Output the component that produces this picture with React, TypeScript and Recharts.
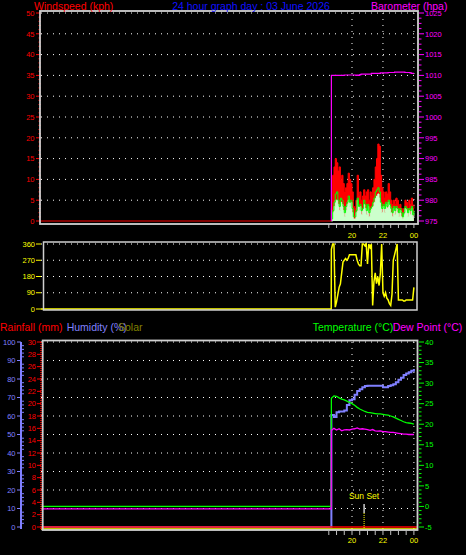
import React from 'react';
import {
  ComposedChart, Line, Area, XAxis, YAxis, CartesianGrid, ReferenceLine
} from 'recharts';

const FONT = '"Liberation Sans", Arial, sans-serif';
const W = 466;
const H = 555;

// time axis in hours since midnight, 24 shows as "00"
const DAY_START = -0.1;
const DAY_END = 24.2;
const DATA_START = 18 + 40 / 60; // station back online at 18:40
const hourTicks = [18.5, 19, 19.5, 20, 20.5, 21, 21.5, 22, 22.5, 23, 23.5, 24];
const hourLabels: Record<number, string> = { 20: '20', 22: '22', 24: '00' };
const gridHours = [20, 22, 24];
const sunSetHour = 20.78;

// readings before the station came online (barometer sits under the frame, clipped)
const offline = { wind: 0, baro: 974.2, dir: 0, temp: 0, dew: -0.6, hum: 0 };

// 5 minute samples from 18:40 to 00:00
const windGust = [
  3, 11, 13, 15, 14, 12, 13, 10, 11, 9,
  7, 8, 9, 11.5, 10, 9, 7, 3.5, 3, 5,
  11, 6, 7, 5, 6, 7.5, 6, 7, 7.5, 5,
  7, 6, 8, 10, 13, 15, 18.5, 18, 11, 8,
  7, 5.5, 7, 6.5, 9, 7, 5, 4, 5, 4,
  5.5, 5, 3.5, 4, 3, 2.5, 3, 5, 4.5, 3,
  5, 4, 5.5, 3, 4,
];
const windSpeed = [
  0, 2, 3.5, 5, 5, 4, 2.5, 4.5, 4, 2.5,
  1, 2.5, 4, 5, 3.5, 4.5, 2, 0.5, 0.5, 2,
  5, 2.5, 3.5, 1.5, 2.5, 4, 3, 1.5, 3.5, 1,
  2.5, 3, 3.5, 4.5, 5.5, 6, 6.5, 5.5, 3.5, 2,
  3.5, 2, 4, 3, 4.5, 3.5, 2, 1, 3, 1.5,
  3, 2, 1, 2.5, 1, 0.5, 1.5, 3, 2.5, 1,
  2.5, 1.5, 3, 1, 2,
];
const windAvg = [
  0.5, 2.5, 4.5, 6.5, 7, 5, 3.5, 5.5, 5, 3.5,
  2, 3.5, 4.5, 6, 4.5, 5, 3, 1, 1, 2.5,
  5.5, 3.5, 4, 2.5, 3, 5, 4, 2.5, 4, 2,
  3, 3.5, 4.5, 5.5, 7, 7.5, 8, 7, 4.5, 3,
  4, 3, 4.5, 3.5, 5, 4, 3, 2, 3.5, 2.5,
  3.5, 3, 2, 3, 2, 1, 2, 3.5, 3, 2,
  3, 2.5, 3.5, 1.5, 2.5,
];
const barometer = [
  1010.0, 1010.0, 1010.0, 1010.0, 1010.0, 1010.0, 1010.0, 1010.0, 1010.0, 1010.0,
  1010.1, 1010.1, 1010.1, 1010.1, 1010.1, 1010.1, 1010.1, 1010.1, 1010.1, 1010.0,
  1010.1, 1010.0, 1010.2, 1010.3, 1010.3, 1010.3, 1010.3, 1010.3, 1010.3, 1010.3,
  1010.3, 1010.5, 1010.5, 1010.5, 1010.5, 1010.5, 1010.5, 1010.5, 1010.6, 1010.6,
  1010.6, 1010.6, 1010.6, 1010.6, 1010.7, 1010.7, 1010.7, 1010.7, 1010.7, 1010.8,
  1010.8, 1010.8, 1010.8, 1010.8, 1010.8, 1010.8, 1010.8, 1010.7, 1010.7, 1010.7,
  1010.7, 1010.6, 1010.5, 1010.5, 1010.5,
];
const windDir = [
  330, 360, 360, 10, 40, 80, 120, 140, 200, 260,
  270, 280, 270, 280, 300, 300, 300, 300, 300, 300,
  270, 250, 240, 240, 360, 360, 350, 360, 250, 360,
  340, 360, 20, 150, 200, 140, 180, 130, 200, 360,
  90, 70, 90, 60, 50, 30, 20, 80, 270, 300,
  330, 360, 50, 50, 50, 50, 45, 45, 50, 50,
  50, 50, 50, 50, 120,
];

// 10 minute samples from 18:40 to 00:00
const temperature = [
  26.3, 26.9, 26.8, 26.4, 26.1, 25.9, 25.6, 25.3, 25.0, 24.6,
  24.1, 23.7, 23.4, 23.1, 22.9, 22.8, 22.7, 22.6, 22.5, 22.5,
  22.4, 22.3, 22.2, 22.0, 21.8, 21.5, 21.2, 20.9, 20.6, 20.4,
  20.3, 20.2, 20.0,
];
const dewPoint = [
  18.5, 19.0, 18.6, 18.9, 18.4, 18.6, 18.7, 18.6, 18.8, 18.9,
  19.1, 18.8, 18.9, 18.8, 18.7, 18.5, 18.7, 18.4, 18.3, 18.4,
  18.2, 18.2, 18.1, 18.0, 18.0, 17.9, 17.8, 17.7, 17.6, 17.6,
  17.5, 17.5, 17.5,
];
const humidity = [
  60.5, 59.5, 62.0, 62.5, 62.5, 63.0, 66.0, 68.5, 69.0, 71.5,
  73.5, 74.5, 75.5, 76.2, 76.3, 76.4, 76.4, 76.4, 76.3, 76.3,
  75.6, 75.5, 76.2, 76.6, 77.2, 78.2, 79.6, 80.7, 82.2, 83.0,
  83.7, 84.5, 85.4,
];

// axis ticks
const windTicks = Array.from({ length: 51 }, (_, i) => i);
const windGrid = [5, 10, 15, 20, 25, 30, 35, 40, 45, 50];
const baroTicks = Array.from({ length: 41 }, (_, i) => 975 + i * 1.25);
const dirTicks = [0, 90, 180, 270, 360];
const compassLabels = ['N', 'E', 'S', 'W', 'N'];
const rainTicks = [0, 2, 4, 6, 8, 10, 12, 14, 16, 18, 20, 22, 24, 26, 28, 30];
const rainGrid = [3, 6, 9, 12, 15, 18, 21, 24, 27, 30]; // = humidity 10..100 %
const humTicks = Array.from({ length: 51 }, (_, i) => i * 2);
const tempTicks = Array.from({ length: 46 }, (_, i) => i - 5);

const topData = [
  { h: DAY_START, gust: offline.wind, baro: offline.baro },
  ...windGust.map((g, i) => ({
    h: DATA_START + i / 12, gust: g, speed: windSpeed[i], avg: windAvg[i], baro: barometer[i],
  })),
];

const dirData = [
  { h: DAY_START, dir: offline.dir },
  { h: DATA_START - 0.01, dir: offline.dir },
  ...windDir.map((d, i) => ({ h: DATA_START + i / 12, dir: d })),
];

const bottomData = [
  { h: DAY_START, temp: offline.temp, dew: offline.dew, hum: offline.hum, rain: 0, solar: 0 },
  { h: DATA_START - 0.01, temp: offline.temp, dew: offline.dew, hum: offline.hum, rain: 0, solar: 0 },
  ...temperature.map((t, j) => ({
    h: DATA_START + j / 6, temp: t, dew: dewPoint[j], hum: humidity[j], rain: 0, solar: 0,
  })),
  { h: DAY_END, rain: 0, solar: 0 },
];

const small = { fontSize: 7.5, fontFamily: FONT };

const hourTick = (lineTop: number, labelDy: number) => (p: any) => {
  const v = p.payload.value;
  const label = hourLabels[v];
  return (
    <g>
      <line x1={p.x} x2={p.x} y1={p.y + lineTop} y2={p.y + lineTop + 4} stroke="#c0c0c0" />
      {label && (
        <text x={p.x} y={p.y + labelDy} textAnchor="middle" fill="#ffff00" {...small}>{label}</text>
      )}
    </g>
  );
};

// left side ticks: p.x is the inner edge of the axis
const leftTick = (color: string, step: number, len: number, gap: number, minorOut = false) => (p: any) => {
  const v = p.payload.value;
  const major = Math.abs(v % step) < 1e-6;
  return (
    <g>
      {major ? (
        <line x1={p.x - len} x2={p.x} y1={p.y} y2={p.y} stroke={color} />
      ) : minorOut ? (
        <line x1={p.x} x2={p.x + 3} y1={p.y} y2={p.y} stroke={color} />
      ) : (
        <line x1={p.x - 2.5} x2={p.x} y1={p.y} y2={p.y} stroke={color} />
      )}
      {major && (
        <text x={p.x - len - gap} y={p.y + 2.7} textAnchor="end" fill={color} {...small}>{v}</text>
      )}
    </g>
  );
};

// right side ticks: p.x is the plot's right edge
const rightTick = (color: string, step: number) => (p: any) => {
  const v = p.payload.value;
  const major = Math.abs(v % step) < 1e-6;
  return (
    <g>
      <line x1={p.x + 2} x2={p.x + (major ? 7 : 4.5)} y1={p.y} y2={p.y} stroke={color} />
      {major && (
        <text x={p.x + 8} y={p.y + 2.7} fill={color} {...small}>{v}</text>
      )}
    </g>
  );
};

const compassTick = (p: any) => {
  const idx = dirTicks.indexOf(p.payload.value);
  return (
    <text x={p.x + 23} y={p.y + 3.6} textAnchor="middle" fill="#ffff00" fontSize={10} fontFamily={FONT}>
      {compassLabels[idx]}
    </text>
  );
};

const noAxis = { axisLine: false, tickLine: false, tickSize: 0, tickMargin: 0, interval: 0 as const };
const layer: React.CSSProperties = { position: 'absolute', left: 0, top: 0 };

export default function App() {
  return (
    <div style={{ position: 'absolute', left: 0, top: 0, width: W, height: H, background: '#000', overflow: 'hidden' }}>
      {/* wind speed + barometer */}
      <div style={layer}>
        <ComposedChart width={W} height={H} data={topData} margin={{ top: 13, right: 0, bottom: 304, left: 0 }}>
          <CartesianGrid stroke="#ffffff" strokeDasharray="1 5" horizontalValues={windGrid} verticalValues={gridHours} />
          <XAxis dataKey="h" type="number" domain={[DAY_START, DAY_END]} ticks={hourTicks} height={30}
            {...noAxis} tick={hourTick(3, 16.5)} />
          <YAxis domain={[0, 50]} ticks={windTicks} width={41} {...noAxis} tick={leftTick('#ff0000', 5, 5, 1.5)} />
          <YAxis yAxisId="baro" orientation="right" domain={[975, 1025]} allowDataOverflow ticks={baroTicks}
            width={49} {...noAxis} tick={rightTick('#ff00ff', 5)} />
          <Area dataKey="gust" type="stepAfter" stroke="#ff0000" fill="#ff0000" fillOpacity={1}
            isAnimationActive={false} />
          <Area dataKey="speed" type="stepAfter" stroke="#ccffcc" fill="#ccffcc" fillOpacity={1}
            isAnimationActive={false} />
          <Line dataKey="avg" type="stepAfter" stroke="#00ff00" strokeWidth={1} dot={false}
            isAnimationActive={false} />
          <Line yAxisId="baro" dataKey="baro" type="stepAfter" stroke="#ff00ff" strokeWidth={1.2}
            dot={false} isAnimationActive={false} />
        </ComposedChart>
      </div>

      {/* wind direction */}
      <div style={layer}>
        <ComposedChart width={W} height={H} data={dirData} margin={{ top: 244, right: 0, bottom: 246, left: 0 }}>
          <CartesianGrid stroke="#ffffff" strokeDasharray="1 5" horizontalValues={[90, 180, 270, 360]} vertical={false} />
          <XAxis dataKey="h" type="number" domain={[DAY_START, DAY_END]} hide />
          <YAxis domain={[0, 360]} ticks={dirTicks} width={41} {...noAxis} tick={leftTick('#ffff00', 90, 5, 1)} />
          <YAxis yAxisId="compass" orientation="right" domain={[0, 360]} ticks={dirTicks} width={49}
            {...noAxis} tick={compassTick} />
          <Line dataKey="dir" type="linear" stroke="#ffff00" strokeWidth={1.5} dot={false}
            isAnimationActive={false} />
        </ComposedChart>
      </div>

      {/* rain, humidity, solar, temperature, dew point */}
      <div style={layer}>
        <ComposedChart width={W} height={H} data={bottomData} margin={{ top: 342, right: 0, bottom: 6, left: 0 }}>
          <CartesianGrid stroke="#ffffff" strokeDasharray="1 5" horizontalValues={rainGrid} verticalValues={gridHours} />
          <XAxis dataKey="h" type="number" domain={[DAY_START, DAY_END]} ticks={hourTicks} height={20}
            {...noAxis} tick={hourTick(2, 14)} />
          <YAxis domain={[-0.324, 30]} ticks={rainTicks} width={20} {...noAxis}
            axisLine={{ stroke: '#ff0000', strokeDasharray: '1 1', strokeWidth: 1.5 }}
            tick={leftTick('#ff0000', 2, 4, 1)} />
          <YAxis yAxisId="hum" domain={[-1.08, 100]} ticks={humTicks} width={21} {...noAxis}
            axisLine={{ stroke: '#8080ff', strokeWidth: 2 }}
            tick={leftTick('#8080ff', 10, 4, 1.5, true)} />
          <YAxis yAxisId="temp" orientation="right" domain={[-5.486, 40]} ticks={tempTicks} width={49}
            {...noAxis} tick={rightTick('#00ff00', 5)} />
          <YAxis yAxisId="solar" domain={[0, 1000]} hide />
          <Line yAxisId="hum" dataKey="hum" type="stepAfter" stroke="#8080ff" strokeWidth={2} dot={false}
            isAnimationActive={false} />
          <Line yAxisId="solar" dataKey="solar" type="linear" stroke="#ffff00" strokeWidth={1.5}
            dot={false} isAnimationActive={false} />
          <Line dataKey="rain" type="linear" stroke="#ff0000" strokeWidth={1.5}
            dot={false} isAnimationActive={false} />
          <Line yAxisId="temp" dataKey="temp" type="linear" stroke="#00ff00" strokeWidth={1.3}
            dot={false} isAnimationActive={false} />
          <Line yAxisId="temp" dataKey="dew" type="linear" stroke="#ff00ff" strokeWidth={1.3}
            dot={false} isAnimationActive={false} />
          <ReferenceLine yAxisId="temp" ifOverflow="visible" stroke="#ffffff" strokeWidth={1.2}
            segment={[{ x: sunSetHour, y: 0.6 }, { x: sunSetHour, y: -1.6 }]}
            label={{ value: 'Sun Set', position: 'top', fill: '#ffff00', fontSize: 8.5, fontFamily: FONT }} />
          <ReferenceLine yAxisId="temp" ifOverflow="visible" stroke="#ffff00" strokeDasharray="1 1"
            segment={[{ x: sunSetHour, y: -1.6 }, { x: sunSetHour, y: -5.7 }]} />
        </ComposedChart>
      </div>

      {/* frames and titles */}
      <svg width={W} height={H} style={{ ...layer, pointerEvents: 'none' }} fontFamily={FONT} fontSize={10.5}>
        <rect x={40} y={11} width={378} height={213} fill="none" stroke="#d0d0d0" strokeWidth={1.8} />
        <rect x={43.5} y={242} width={373.5} height={68} fill="none" stroke="#d0d0d0" strokeWidth={1.5} />
        <rect x={42.7} y={340.5} width={374.8} height={189.5} fill="none" stroke="#d0d0d0" strokeWidth={1.8} />
        <text x={34} y={9.5} fill="#ff0000">Windspeed (kph)</text>
        <text x={251} y={9.5} textAnchor="middle" fill="#1010ff">24 hour graph day : 03 June 2026</text>
        <text x={371} y={9.5} fill="#ff00ff">Barometer (hpa)</text>
        <text x={0} y={330.7} fill="#ff0000">Rainfall (mm)</text>
        <text x={66.7} y={330.7} fill="#8080ff">Humidity (%)</text>
        <text x={118} y={330.7} fill="#808000">Solar</text>
        <text x={312.7} y={330.7} fill="#00ff00">Temperature (°C)</text>
        <text x={392.7} y={330.7} fill="#ff00ff">Dew Point (°C)</text>
      </svg>
    </div>
  );
}
